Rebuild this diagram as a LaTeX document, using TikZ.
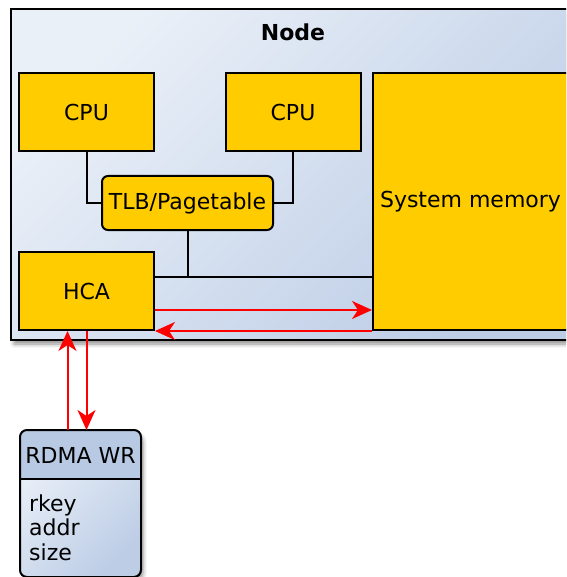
\documentclass[tikz,border=0pt]{standalone}
\usepackage{fontspec}
\setmainfont{DejaVu Sans}
\usetikzlibrary{arrows.meta,shadows.blur,calc}
\definecolor{chip}{HTML}{FFCC00}
\definecolor{paneltop}{HTML}{EAF0F8}
\definecolor{panelbot}{HTML}{BDCDE6}
\definecolor{hdrblue}{HTML}{B8C9E4}
\newcommand{\lbl}{\fontsize{22}{26}\selectfont}
\tikzset{
  part/.style={draw=black, line width=2pt, fill=chip, inner sep=0pt, font=\lbl},
  wire/.style={line width=2pt},
  flow/.style={red, line width=2pt, -{Stealth[length=20pt,width=18pt,inset=6pt]}},
  softshadow/.style={blur shadow={shadow xshift=3pt, shadow yshift=-4pt,
      shadow blur radius=4pt, shadow opacity=45}},
  panel/.style={draw=black, line width=2pt, top color=paneltop,
      bottom color=panelbot, shading angle=45, softshadow},
}
\begin{document}
\begin{tikzpicture}[x=1pt,y=-1pt]
\clip (0,0) rectangle (566,577);

% enclosing node
\node[panel, minimum width=575, minimum height=331, anchor=north west, inner sep=0pt] (node) at (10,8) {};
\node[font=\bfseries\lbl] (title) at (293,32) {Node};

% components
\node[part, minimum width=135, minimum height=78] (cpu1) at (86.5,112) {CPU};
\node[part, minimum width=135, minimum height=78] (cpu2) at (293,112) {CPU};
\node[part, minimum width=195, minimum height=257] (sysmem) at (470.5,201.5) {System memory};
\node[part, rounded corners=6pt, minimum width=171, minimum height=54] (tlb) at (187.5,203) {TLB/Pagetable};
\node[part, minimum width=135, minimum height=78] (hca) at (86.5,291) {HCA};

% internal wiring
\draw[wire] (cpu1.south) |- (tlb.west);
\draw[wire] (cpu2.south) |- (tlb.east);
\coordinate (bus) at (tlb.south |- 0,277);
\draw[wire] (tlb.south) -- (bus);
\draw[wire] (hca.east |- bus) -- (sysmem.west |- bus);

% work request descriptor
\node[panel, draw=none, rounded corners=7pt, minimum width=119, minimum height=145, inner sep=0pt] (rdma) at (80.5,503.5) {};
\begin{scope}
  \clip[rounded corners=7pt] (rdma.north west) rectangle (rdma.south east);
  \fill[hdrblue] (rdma.north west) rectangle (rdma.east |- 0,479);
\end{scope}
\draw[wire] (rdma.west |- 0,479) -- (rdma.east |- 0,479);
\draw[wire, rounded corners=7pt] (rdma.north west) rectangle (rdma.south east);
\node[font=\lbl] (rdmahead) at (rdma.north |- 0,455) {RDMA WR};
\node[font=\lbl, anchor=base west, inner sep=0pt] (rkey) at (29,511) {rkey};
\node[font=\lbl, anchor=base west, inner sep=0pt] (addr) at (29,535.5) {addr};
\node[font=\lbl, anchor=base west, inner sep=0pt] (size) at (29,560) {size};

% data flows
\draw[flow] (hca.east |- 0,310) -- (sysmem.west |- 0,310);
\draw[flow] (sysmem.west |- hca.south) -- (hca.south east);
\coordinate (upx) at (67.5,0);
\draw[flow] (rdma.north -| upx) -- (hca.south -| upx);
\draw[flow] (hca.south) -- (rdma.north -| hca.south);
\end{tikzpicture}
\end{document}
